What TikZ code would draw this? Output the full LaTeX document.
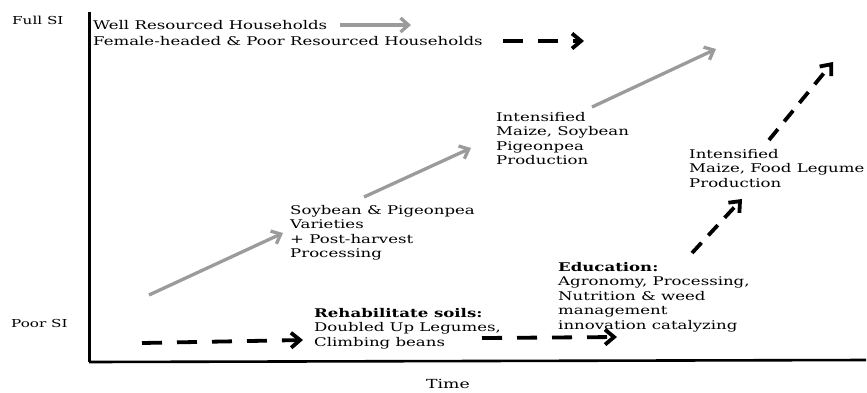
\documentclass[tikz,border=0pt]{standalone}
\usepackage{fontspec}
\setmainfont[FakeStretch=1.38]{DejaVu Serif}
\usetikzlibrary{arrows.meta}
\definecolor{arrgray}{RGB}{155,155,155}
\tikzset{
  lbl/.style={inner sep=0pt, anchor=north west, align=left, font=\fontsize{12}{14.5}\selectfont},
  toplbl/.style={inner sep=0pt, anchor=west, font=\fontsize{12}{14.5}\selectfont},
  axlbl/.style={inner sep=0pt, font=\fontsize{11}{13}\selectfont},
  grayarr/.style={draw=arrgray, line width=3.3pt, -{Straight Barb[length=8pt,width=14pt,line width=3.3pt]}},
  dasharr/.style={draw=black, line width=3.8pt, dash pattern=on 20pt off 15pt, -{Straight Barb[length=9pt,width=15pt,line width=3.8pt]}},
  axis/.style={draw=black, line width=3pt}
}
\begin{document}
\begin{tikzpicture}[x=1pt,y=-1pt]
\useasboundingbox (0,0) rectangle (867,392);
% axes
\coordinate (ytop) at (89,12);
\coordinate (orig) at (89,362);
\coordinate (xend) at (866,360);
\draw[axis] (ytop) -- (orig);
\draw[axis, line width=2.6pt] (orig) -- (xend);
\node[axlbl, anchor=west] (full) at (12,20) {Full SI};
\node[axlbl, anchor=west] (poor) at (11,323) {Poor SI};
\node[axlbl, font=\fontsize{12.5}{14}\selectfont] (time) at (448,384) {Time};
% legend
\node[toplbl] (well) at (93,25) {Well Resourced Households};
\node[toplbl] (fem) at (93,41) {Female-headed \& Poor Resourced Households};
\coordinate (w1) at (340,25); \coordinate (w2) at (411,25);
\draw[grayarr] (w1) -- (w2);
\coordinate (f1) at (503,41); \coordinate (f2) at (584,41);
\draw[dasharr] (f1) -- (f2);
% text blocks
\node[lbl] (soy) at (290,205) {Soybean \& Pigeonpea\\Varieties\\+ Post-harvest\\Processing};
\node[lbl] (int1) at (496,112) {Intensified\\Maize, Soybean\\Pigeonpea\\Production};
\node[lbl] (reh) at (314,308) {\textbf{Rehabilitate soils:}\\Doubled Up Legumes,\\Climbing beans};
\node[lbl] (edu) at (558,262) {\textbf{Education:}\\Agronomy, Processing,\\Nutrition \& weed\\management\\innovation catalyzing};
\node[lbl] (int2) at (689,149) {Intensified\\Maize, Food Legume\\Production};
% gray arrows
\coordinate (g1a) at (149,295); \coordinate (g1b) at (283,233);
\draw[grayarr] (g1a) -- (g1b);
\coordinate (g2a) at (364,197); \coordinate (g2b) at (471,148);
\draw[grayarr] (g2a) -- (g2b);
\coordinate (g3a) at (592,107); \coordinate (g3b) at (716,49);
\draw[grayarr] (g3a) -- (g3b);
% dashed arrows
\coordinate (d1a) at (142,343); \coordinate (d1b) at (303,340);
\draw[dasharr] (d1a) -- (d1b);
\coordinate (d2a) at (482,338); \coordinate (d2b) at (617,337);
\draw[dasharr] (d2a) -- (d2b);
\coordinate (d3a) at (692,253); \coordinate (d3b) at (742,199);
\draw[dasharr, dash pattern=on 14pt off 10pt] (d3a) -- (d3b);
\coordinate (d4a) at (769,140); \coordinate (d4b) at (833,62);
\draw[dasharr, dash pattern=on 14pt off 10pt] (d4a) -- (d4b);
\end{tikzpicture}
\end{document}
